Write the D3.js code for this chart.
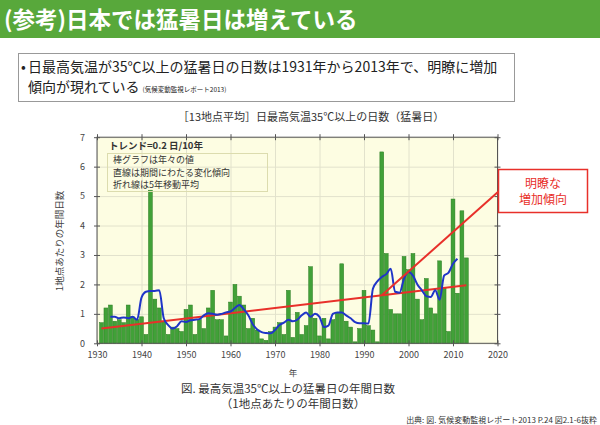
<!DOCTYPE html>
<html>
<head>
<meta charset="utf-8">
<script src="https://cdn.jsdelivr.net/npm/d3@7"></script>
<style>
  body { margin: 0; background: #fff; }
  svg { display: block; font-family: "Noto Sans CJK JP", "Noto Sans", sans-serif; }
</style>
</head>
<body>
<div id="chart"></div>
<script>
// yearly number of days >= 35C (13 station mean), 1931 - 2013
var firstYear = 1931
var days = [0.7, 1.2, 1.3, 0.75, 0.8, 0.7, 1.3, 0.9, 0.8, 0.9,      // 1931-1940
    0.3, 5.2, 1.5, 1.2, 0.75, 0.3, 0.55, 0.5, 0.4, 1.15,              // 1941-1950
    1.3, 0.3, 0.8, 0.5, 1.2, 1.8, 0.8, 0.8, 0.25, 1.4,                // 1951-1960
    2.0, 1.6, 1.3, 0.5, 0.85, 0.45, 0.15, 0.1, 0.4, 0.55,             // 1961-1970
    0.7, 0.3, 1.8, 0.2, 1.05, 0.3, 0.6, 2.6, 0.85, 0.25,              // 1971-1980
    0.85, 0.15, 0.8, 1.05, 2.7, 0.75, 0.55, 0.05, 0.5, 1.8,           // 1981-1990
    0.6, 0.45, 0.05, 6.5, 3.05, 1.15, 1.0, 1.0, 2.95, 2.5,            // 1991-2000
    3.05, 1.5, 0.8, 2.2, 1.2, 1.0, 2.8, 1.9, 0.4, 4.9,                // 2001-2010
    1.7, 4.5, 2.9]                                                    // 2011-2013

// 5 year moving average (blue), 1933 - 2011
var avgFirstYear = 1933
var avg5 = [0.9, 0.9, 0.85, 0.88, 0.85, 0.9, 0.8, 1.55,
    1.75, 1.78, 1.78, 1.8, 0.85, 0.62, 0.5, 0.58, 0.75, 0.72,
    0.78, 0.8, 0.82, 0.95, 1.02, 1.0, 0.97, 1.0, 1.05, 1.08,
    1.2, 1.3, 1.15, 0.95, 0.65, 0.47, 0.38, 0.35, 0.34, 0.45,
    0.62, 0.7, 0.8, 0.75, 0.8, 0.95, 1.05, 0.9, 1.0, 0.9,
    0.55, 0.6, 1.0, 1.05, 1.05, 0.95, 0.85, 0.72, 0.68, 0.68,
    0.67, 1.85, 2.1, 2.25, 2.35, 2.53, 1.75, 1.72, 2.2, 2.42,
    2.3, 2.0, 1.8, 1.6, 1.57, 1.8, 1.48, 2.3, 2.4, 2.7, 2.87]

// linear trend (red)
var trendYears = [1931, 2013]
var trendDays = [0.5, 1.97]
var arrowYear = 1994

var xTicks = [1930, 1940, 1950, 1960, 1970, 1980, 1990, 2000, 2010, 2020]
var yTicks = [0, 1, 2, 3, 4, 5, 6, 7]
var legendLines = ['棒グラフは年々の値', '直線は期間にわたる変化傾向', '折れ線は5年移動平均']
var calloutLines = ['明瞭な', '増加傾向']

var W = 600, H = 425
var svg = d3.select('#chart').append('svg')
    .attr('width', W).attr('height', H)

// header
svg.append('rect').attr('x', 0).attr('y', 0).attr('width', W).attr('height', 38)
    .attr('fill', '#58a83b')
svg.append('text').attr('x', 4).attr('y', 28)
    .attr('fill', '#fff').style('font-size', '22.5px').style('font-weight', 'bold')
    .text('(参考)日本では猛暑日は増えている')

// bullet box
svg.append('rect').attr('x', 18.5).attr('y', 53.5).attr('width', 496).attr('height', 48)
    .attr('fill', '#fff').attr('stroke', '#999')
svg.append('text').attr('x', 21).attr('y', 71.5).style('font-size', '14px').attr('fill', '#222')
    .text('•')
svg.append('text').attr('x', 28).attr('y', 71.5).style('font-size', '14px').attr('fill', '#222')
    .text('日最高気温が35℃以上の猛暑日の日数は1931年から2013年で、明瞭に増加')
var l2 = svg.append('text').attr('x', 28).attr('y', 91.5).attr('fill', '#222')
l2.append('tspan').style('font-size', '14px').text('傾向が現れている')
l2.append('tspan').attr('dx', 3).style('font-size', '6.5px').text('(気候変動監視レポート2013)')

// chart title
svg.append('text').attr('x', 311).attr('y', 121).attr('text-anchor', 'middle')
    .style('font-size', '11px').attr('fill', '#333')
    .text('［13地点平均］日最高気温35℃以上の日数（猛暑日）')

// scales
var x = d3.scaleLinear().domain([1930, 2020]).range([97, 497.5])
var y = d3.scaleLinear().domain([0, 7]).range([343.3, 137.2])
var x0 = x.range()[0], x1 = x.range()[1], yTop = y.range()[1], yBot = y.range()[0]

svg.append('rect').attr('x', x0).attr('y', yTop).attr('width', x1 - x0).attr('height', yBot - yTop)
    .attr('fill', '#fdfde2')

// grid
svg.append('g').attr('class', 'grid')
    .attr('transform', 'translate(0,' + yBot + ')')
    .call(d3.axisTop(x).tickValues(xTicks).tickSize(yBot - yTop).tickFormat(''))
svg.append('g').attr('class', 'grid')
    .attr('transform', 'translate(' + x0 + ',0)')
    .call(d3.axisRight(y).tickValues(yTicks).tickSize(x1 - x0).tickFormat(''))
svg.selectAll('.grid .domain').remove()
svg.selectAll('.grid line').attr('stroke', '#e2e2cc').attr('stroke-width', 1)

// bars
var step = x(1931) - x(1930)
svg.append('g').selectAll('rect')
    .data(days)
    .enter()
    .append('rect')
    .attr('x', (d, i) => x(firstYear + i) - step / 2 + 0.3)
    .attr('width', step - 0.6)
    .attr('y', d => y(d))
    .attr('height', d => yBot - y(d))
    .attr('fill', '#41a138')
    .attr('stroke', '#2a7c22')
    .attr('stroke-width', 0.5)

// trend line
svg.append('line')
    .attr('x1', x(trendYears[0])).attr('y1', y(trendDays[0]))
    .attr('x2', x(trendYears[1])).attr('y2', y(trendDays[1]))
    .attr('stroke', '#e8302a').attr('stroke-width', 2)

// moving average
var line = d3.line()
    .x((d, i) => x(avgFirstYear + i))
    .y(d => y(d))
    .curve(d3.curveMonotoneX)
svg.append('path').datum(avg5)
    .attr('d', line)
    .attr('fill', 'none').attr('stroke', '#1f35c8').attr('stroke-width', 2)

// legend
svg.append('text').attr('x', 109).attr('y', 148.5)
    .style('font-size', '9.5px').style('font-weight', 'bold').attr('fill', '#333')
    .text('トレンド=0.2 日/10年')
svg.append('rect').attr('x', 107.5).attr('y', 153.5).attr('width', 160).attr('height', 38)
    .attr('fill', 'none').attr('stroke', '#dcdcae')
svg.append('g').selectAll('text')
    .data(legendLines)
    .enter()
    .append('text')
    .attr('x', 113)
    .attr('y', (d, i) => 163 + i * 12.5)
    .style('font-size', '9px').attr('fill', '#333')
    .text(d => d)

// frame + axes (ticks cross the frame)
svg.append('rect').attr('x', x0).attr('y', yTop).attr('width', x1 - x0).attr('height', yBot - yTop)
    .attr('fill', 'none').attr('stroke', '#555')

var axB = svg.append('g').attr('transform', 'translate(0,' + yBot + ')')
    .call(d3.axisBottom(x).tickValues(xTicks).tickSize(3).tickPadding(5).tickFormat(d3.format('d')))
var axBi = svg.append('g').attr('transform', 'translate(0,' + yBot + ')')
    .call(d3.axisTop(x).tickValues(xTicks).tickSize(3).tickFormat(''))
var axT = svg.append('g').attr('transform', 'translate(0,' + yTop + ')')
    .call(d3.axisTop(x).tickValues(xTicks).tickSize(3).tickFormat(''))
var axTi = svg.append('g').attr('transform', 'translate(0,' + yTop + ')')
    .call(d3.axisBottom(x).tickValues(xTicks).tickSize(3).tickFormat(''))
var axL = svg.append('g').attr('transform', 'translate(' + x0 + ',0)')
    .call(d3.axisLeft(y).tickValues(yTicks).tickSize(3).tickPadding(9).tickFormat(d3.format('d')))
var axLi = svg.append('g').attr('transform', 'translate(' + x0 + ',0)')
    .call(d3.axisRight(y).tickValues(yTicks).tickSize(3).tickFormat(''))
var axR = svg.append('g').attr('transform', 'translate(' + x1 + ',0)')
    .call(d3.axisRight(y).tickValues(yTicks).tickSize(3).tickFormat(''))
var axRi = svg.append('g').attr('transform', 'translate(' + x1 + ',0)')
    .call(d3.axisLeft(y).tickValues(yTicks).tickSize(3).tickFormat(''))
;[axB, axBi, axT, axTi, axL, axLi, axR, axRi].forEach(function (g) {
    g.select('.domain').remove()
    g.selectAll('line').attr('stroke', '#555')
    g.selectAll('text').attr('fill', '#444').style('font-size', '9px')
        .style('font-family', '"Noto Sans CJK JP", sans-serif')
})

// axis titles
svg.append('text').attr('x', 293).attr('y', 375.5).attr('text-anchor', 'middle')
    .style('font-size', '8.5px').attr('fill', '#444').text('年')
svg.append('text')
    .attr('transform', 'translate(63,241) rotate(-90)')
    .attr('text-anchor', 'middle')
    .style('font-size', '9.5px').attr('fill', '#444')
    .text('1地点あたりの年間日数')

// annotation line + callout
var trendAt = d3.scaleLinear().domain(trendYears).range(trendDays)
var box = { x: 498.5, y: 169.5, w: 89, h: 43 }
svg.append('line')
    .attr('x1', x(arrowYear)).attr('y1', y(trendAt(arrowYear)))
    .attr('x2', box.x).attr('y2', box.y + 22)
    .attr('stroke', '#e8302a').attr('stroke-width', 2)
svg.append('rect').attr('x', box.x).attr('y', box.y).attr('width', box.w).attr('height', box.h)
    .attr('fill', '#fff').attr('stroke', '#e8302a').attr('stroke-width', 1.5)
svg.append('g').selectAll('text')
    .data(calloutLines)
    .enter()
    .append('text')
    .attr('x', box.x + box.w / 2)
    .attr('y', (d, i) => box.y + 18 + i * 16)
    .attr('text-anchor', 'middle')
    .style('font-size', '12px').attr('fill', '#e8302a')
    .text(d => d)

// caption + source
svg.append('text').attr('x', 288).attr('y', 393).attr('text-anchor', 'middle')
    .style('font-size', '11.5px').attr('fill', '#333')
    .text('図. 最高気温35℃以上の猛暑日の年間日数')
svg.append('text').attr('x', 293).attr('y', 408).attr('text-anchor', 'middle')
    .style('font-size', '11.5px').attr('fill', '#333')
    .text('（1地点あたりの年間日数）')
svg.append('text').attr('x', 597).attr('y', 423).attr('text-anchor', 'end')
    .style('font-size', '8px').attr('fill', '#333')
    .text('出典: 図. 気候変動監視レポート2013 P.24 図2.1-6抜粋')
</script>
</body>
</html>
